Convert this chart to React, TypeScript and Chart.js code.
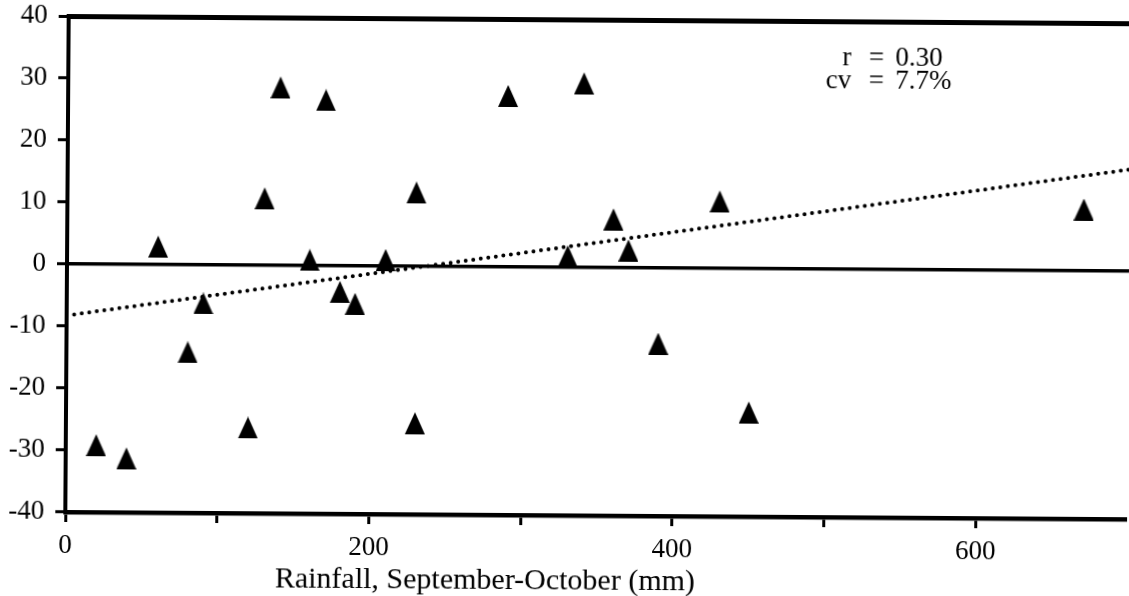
import React, { useEffect, useRef } from "react";
import { Chart, registerables } from "chart.js";

Chart.register(...registerables);

// Rainfall, September-October (mm)
const rainfall = [20, 40, 60, 80, 90, 120, 130, 140, 160, 170, 180, 190, 210, 230, 230, 290, 330, 340, 360, 370, 390, 430, 450, 670];
// Deviation (%)
const deviation = [-29.2, -31.3, 2.9, -14.1, -6.2, -26.2, 10.8, 28.7, 0.9, 26.7, -4.2, -6.1, 1.0, 11.9, -25.3, 27.6, 1.8, 29.7, 7.8, 2.8, -12.2, 10.8, -23.2, 9.9];

// dotted regression line, read end points
const trendX = [0, 700];
const trendY = [-8.3, 16.4];

const xTickValues = [0, 100, 200, 300, 400, 500, 600];
const xTickLabels = ["0", "", "200", "", "400", "", "600"];
const yTickValues = [-40, -30, -20, -10, 0, 10, 20, 30, 40];
const yTickLabels = ["-40", "-30", "-20", "-10", "0", "10", "20", "30", "40"];

const statNames = ["r", "cv"];
const statValues = ["0.30", "7.7%"];
const xTitle = "Rainfall, September-October (mm)";

const FONT = '"Liberation Serif", "Times New Roman", serif';

export default function App() {
  const ref = useRef<HTMLCanvasElement | null>(null);

  useEffect(() => {
    const canvas = ref.current;
    if (!canvas) return;

    const tri = document.createElement("canvas");
    tri.width = 20;
    tri.height = 22;
    const tctx = tri.getContext("2d")!;
    tctx.fillStyle = "#000";
    tctx.beginPath();
    tctx.moveTo(10, 0);
    tctx.lineTo(20, 22);
    tctx.lineTo(0, 22);
    tctx.closePath();
    tctx.fill();

    const textPlugin = {
      id: "texts",
      afterDraw(chart: any) {
        const ctx = chart.ctx;
        ctx.save();
        ctx.fillStyle = "#000";
        ctx.textBaseline = "alphabetic";
        ctx.font = `30px ${FONT}`;
        ctx.textAlign = "center";
        ctx.fillText(xTitle, 487, 586);
        ctx.font = `27px ${FONT}`;
        const baselines = [59.5, 82.5];
        statNames.forEach((n, i) => {
          ctx.textAlign = "right";
          ctx.fillText(n, 850, baselines[i]);
          ctx.textAlign = "center";
          ctx.fillText("=", 875, baselines[i]);
          ctx.textAlign = "left";
          ctx.fillText(statValues[i], 894, baselines[i]);
        });
        ctx.restore();
      },
    };

    const chart = new Chart(canvas, {
      type: "scatter",
      data: {
        datasets: [
          {
            type: "scatter",
            data: rainfall.map((x, i) => ({ x, y: deviation[i] })),
            pointStyle: tri as any,
            pointRadius: 10,
            backgroundColor: "#000",
            borderColor: "#000",
          },
          {
            type: "line",
            data: trendX.map((x, i) => ({ x, y: trendY[i] })),
            borderColor: "#000",
            borderWidth: 4,
            borderDash: [0, 7.6],
            borderCapStyle: "round",
            pointRadius: 0,
            fill: false,
            tension: 0,
          } as any,
        ],
      },
      options: {
        animation: false,
        responsive: false,
        events: [],
        layout: { autoPadding: false, padding: { top: 16, left: 0, right: 0, bottom: 0 } },
        plugins: { legend: { display: false }, tooltip: { enabled: false } },
        scales: {
          x: {
            type: "linear",
            min: 0,
            max: 700,
            afterBuildTicks: (s: any) => {
              s.ticks = xTickValues.map((v) => ({ value: v }));
            },
            afterFit: (s: any) => {
              s.height = 84;
              s.paddingLeft = 0;
              s.paddingRight = 0;
            },
            ticks: {
              callback: (_v: any, i: number) => xTickLabels[i],
              font: { family: FONT, size: 27 },
              color: "#000",
              padding: 8,
              maxRotation: 0,
              autoSkip: false,
            },
            grid: {
              drawOnChartArea: false,
              drawTicks: true,
              tickLength: 10,
              tickWidth: 3,
              tickColor: "#000",
            },
            border: { display: true, color: "#000", width: 4.5 },
          },
          y: {
            type: "linear",
            min: -40,
            max: 40,
            afterBuildTicks: (s: any) => {
              s.ticks = yTickValues.map((v) => ({ value: v }));
            },
            afterFit: (s: any) => {
              s.width = 67;
              s.paddingTop = 0;
              s.paddingBottom = 0;
            },
            ticks: {
              callback: (_v: any, i: number) => yTickLabels[i],
              font: { family: FONT, size: 27 },
              color: "#000",
              padding: 11,
              autoSkip: false,
            },
            grid: {
              color: (c: any) =>
                c.tick && (c.tick.value === 0 || c.tick.value === 40) ? "#000" : "rgba(0,0,0,0)",
              lineWidth: (c: any) => (c.tick && c.tick.value === 40 ? 5 : 3.5),
              drawTicks: true,
              tickLength: 10,
              tickWidth: 3,
              tickColor: "#000",
            },
            border: { display: true, color: "#000", width: 4 },
          },
        },
      },
      plugins: [textPlugin],
    } as any);

    return () => chart.destroy();
  }, []);

  return (
    <div
      style={{
        position: "fixed",
        left: 0,
        top: 0,
        width: 1129,
        height: 596,
        overflow: "hidden",
        background: "#fff",
      }}
    >
      <div
        style={{
          position: "absolute",
          left: 0,
          top: 0,
          width: 1129,
          height: 596,
          transform: "rotate(0.39deg)",
          transformOrigin: "67px 264px",
        }}
      >
        <canvas ref={ref} width={1129} height={596} style={{ display: "block" }} />
      </div>
    </div>
  );
}
